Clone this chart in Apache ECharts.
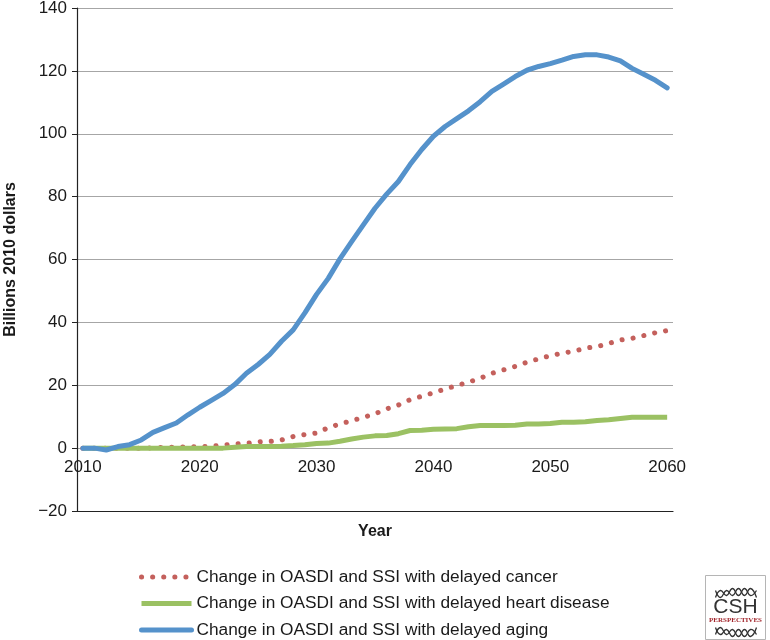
<!DOCTYPE html>
<html>
<head>
<meta charset="utf-8">
<script src="https://cdn.jsdelivr.net/npm/echarts@6/dist/echarts.min.js"></script>
<style>
  html, body { margin: 0; padding: 0; background: #fff; }
  #chart { width: 770px; height: 640px; }
</style>
</head>
<body>
<div id="chart"></div>
<script>
const years = [];
for (let y = 2010; y <= 2060; y++) years.push(String(y));

const yTicks = [-20, 0, 20, 40, 60, 80, 100, 120, 140];

const cancer = [0, 0, 0, 0, 0, 0, 0.1, 0.2, 0.3, 0.4,
  0.5, 0.6, 1.0, 1.3, 1.5, 2.0, 2.1, 2.6, 3.7, 4.3,
  4.8, 6.5, 7.7, 8.7, 9.8, 10.9, 12.5, 13.7, 15.4, 16.5,
  17.6, 18.8, 19.9, 21.0, 22.2, 23.8, 24.9, 26.0, 27.3, 28.4,
  29.4, 30.2, 30.8, 31.8, 32.3, 33.3, 34.4, 34.9, 35.8, 36.7,
  37.4];

const heart = [0, 0, 0, 0, 0, 0, 0, 0, 0, 0,
  0, 0, 0, 0.3, 0.5, 0.5, 0.5, 0.6, 0.8, 1.1,
  1.5, 1.6, 2.2, 2.9, 3.5, 3.9, 4.0, 4.6, 5.6, 5.7,
  6.0, 6.1, 6.2, 6.8, 7.2, 7.2, 7.2, 7.3, 7.7, 7.7,
  7.8, 8.2, 8.2, 8.4, 8.8, 9.0, 9.4, 9.8, 9.8, 9.8,
  9.8];

const aging = [0, 0, -0.6, 0.5, 1.1, 2.6, 5.0, 6.5, 8.0, 10.6,
  13.0, 15.2, 17.4, 20.2, 23.8, 26.6, 29.8, 34.0, 37.6, 43.0,
  48.9, 54.0, 60.2, 65.7, 71.0, 76.3, 80.8, 84.8, 90.2, 95.0,
  99.2, 102.3, 104.8, 107.3, 110.2, 113.5, 115.8, 118.2, 120.2, 121.4,
  122.3, 123.4, 124.6, 125.1, 125.1, 124.4, 123.2, 120.8, 118.9, 117.0,
  114.6];

const seriesNames = [
  'Change in OASDI and SSI with delayed cancer',
  'Change in OASDI and SSI with delayed heart disease',
  'Change in OASDI and SSI with delayed aging'
];

const FONT = '"Liberation Sans", Arial, Helvetica, sans-serif';
const chart = echarts.init(document.getElementById('chart'), null, { renderer: 'canvas' });

const option = {
  animation: false,
  backgroundColor: '#ffffff',
  textStyle: { fontFamily: FONT },
  grid: { left: 77, right: 97, top: 8, bottom: 129, containLabel: false, outerBoundsMode: 'none' },
  legend: {
    orient: 'vertical',
    left: 139,
    top: 568,
    height: 80,
    padding: 0,
    itemWidth: 50,
    itemHeight: 14,
    itemGap: 8.5,
    itemStyle: { opacity: 0 },
    lineStyle: { width: 5 },
    textStyle: { fontSize: 17.3, color: '#1a1a1a', fontFamily: FONT, lineHeight: 18 },
    data: seriesNames
  },
  xAxis: {
    type: 'category',
    data: years,
    boundaryGap: true,
    axisLine: { onZero: false, lineStyle: { color: '#222', width: 1.2 } },
    axisTick: { show: false },
    axisLabel: {
      interval: 9,
      margin: -52,
      fontSize: 17,
      color: '#1a1a1a',
      fontFamily: FONT
    },
    splitLine: { show: false },
    name: 'Year',
    nameLocation: 'middle',
    nameGap: 13,
    nameTextStyle: { fontSize: 16, fontWeight: 'bold', color: '#1a1a1a', fontFamily: FONT }
  },
  yAxis: {
    type: 'value',
    min: -20,
    max: 140,
    interval: 20,
    axisLine: { show: true, lineStyle: { color: '#222', width: 1.2 } },
    axisTick: { show: true, length: 5, lineStyle: { color: '#222' } },
    axisLabel: {
      margin: 10,
      fontSize: 17,
      color: '#1a1a1a',
      fontFamily: FONT,
      formatter: function (v) { return v < 0 ? '\u2212' + Math.abs(v) : String(v); }
    },
    splitLine: { show: true, lineStyle: { color: '#a6a6a6', width: 1 } },
    name: 'Billions 2010 dollars',
    nameLocation: 'middle',
    nameGap: 58,
    nameTextStyle: { fontSize: 16, fontWeight: 'bold', color: '#1a1a1a', fontFamily: FONT }
  },
  series: [
    {
      name: seriesNames[0],
      type: 'line',
      data: cancer,
      symbol: 'none',
      color: '#C4605C',
      lineStyle: { color: '#C4605C', width: 5, type: [0.1, 11], cap: 'round' },
      z: 2
    },
    {
      name: seriesNames[1],
      type: 'line',
      data: heart,
      symbol: 'none',
      color: '#9BC163',
      lineStyle: { color: '#9BC163', width: 5, cap: 'butt' },
      z: 3
    },
    {
      name: seriesNames[2],
      type: 'line',
      data: aging,
      symbol: 'none',
      color: '#5592CB',
      lineStyle: { color: '#5592CB', width: 5, cap: 'round', join: 'round' },
      z: 4
    }
  ],
  graphic: [
    {
      type: 'group',
      left: 705,
      top: 575,
      children: [
        { type: 'rect', shape: { x: 0, y: 0, width: 60, height: 64 },
          style: { fill: '#fff', stroke: '#b5b5b5', lineWidth: 1 } },
        { type: 'polyline', shape: { points: [[10,22],[15,15],[21,20],[27,13],[33,20],[39,13],[45,20],[51,15]], smooth: 0.5 },
          style: { stroke: '#333', fill: null, lineWidth: 1.3 } },
        { type: 'polyline', shape: { points: [[10,15],[15,22],[21,15],[27,20],[33,13],[39,20],[45,13],[51,22]], smooth: 0.5 },
          style: { stroke: '#333', fill: null, lineWidth: 1.3 } },
        { type: 'text', x: 30, y: 32, style: { text: 'CSH', fontSize: 21, fill: '#333', fontFamily: FONT, align: 'center', verticalAlign: 'middle' } },
        { type: 'text', x: 30, y: 45, style: { text: 'PERSPECTIVES', fontSize: 7, fontWeight: 'bold', fill: '#A3262C', fontFamily: '"Liberation Serif", serif', align: 'center', verticalAlign: 'middle' } },
        { type: 'polyline', shape: { points: [[10,52],[15,59],[21,54],[27,61],[33,54],[39,61],[45,54],[51,59]], smooth: 0.5 },
          style: { stroke: '#333', fill: null, lineWidth: 1.3 } },
        { type: 'polyline', shape: { points: [[10,59],[15,52],[21,59],[27,54],[33,61],[39,54],[45,61],[51,52]], smooth: 0.5 },
          style: { stroke: '#333', fill: null, lineWidth: 1.3 } }
      ]
    }
  ]
};

chart.setOption(option);
</script>
</body>
</html>
